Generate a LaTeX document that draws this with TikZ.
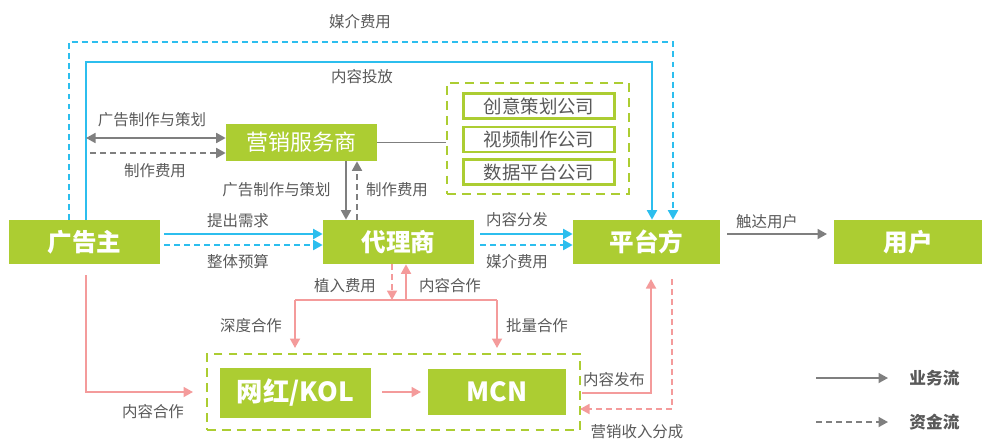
\documentclass[tikz,border=0pt]{standalone}
\usepackage{fontspec}
\setmainfont{Noto Sans CJK SC}
\usetikzlibrary{arrows.meta}
\definecolor{lgreen}{HTML}{ACCD32}
\definecolor{lblue}{HTML}{2CBEEE}
\definecolor{lpink}{HTML}{F49B9B}
\definecolor{lgray}{HTML}{7F7F7F}
\definecolor{ltext}{HTML}{595959}
\tikzset{
  x=0.02cm, y=-0.02cm,
  gbox/.style={fill=lgreen, text=white, font=\bfseries\fontsize{14}{16}\selectfont, inner sep=0pt, minimum height=0.88cm},
  cbox/.style={draw=lgreen, line width=1.4pt, text=ltext, fill=white, font=\fontsize{10.5}{12}\selectfont, inner sep=0pt, minimum width=3.02cm, minimum height=0.5cm},
  grp/.style={draw=lgreen, line width=1.6pt, dash pattern=on 5pt off 3.5pt},
  lbl/.style={text=ltext, font=\fontsize{8.8}{10}\selectfont, inner sep=0pt},
  tip/.style={-{Triangle[length=0.19cm,width=0.2cm]}},
  bline/.style={draw=lblue, line width=1.1pt, tip},
  bdash/.style={draw=lblue, line width=1.1pt, tip, dash pattern=on 3.4pt off 2.3pt},
  kline/.style={draw=lgray, line width=1pt, tip},
  kdash/.style={draw=lgray, line width=1pt, tip, dash pattern=on 3.4pt off 2.3pt},
  pline/.style={draw=lpink, line width=1pt, tip},
  pdash/.style={draw=lpink, line width=1pt, tip, dash pattern=on 3.4pt off 2.3pt},
}
\begin{document}
\begin{tikzpicture}
\useasboundingbox (0,0) rectangle (982,439);
% main nodes
\node[gbox, minimum width=3.02cm] (adv) at (84.5,242) {广告主};
\node[gbox, minimum width=3.02cm] (agt) at (398.5,242) {代理商};
\node[gbox, minimum width=2.94cm] (plat) at (646.5,242) {平台方};
\node[gbox, minimum width=2.96cm] (user) at (908,242) {用户};
\node[gbox, minimum width=3.02cm, minimum height=0.74cm, font=\fontsize{12.5}{14}\selectfont] (svc) at (301.5,142.5) {营销服务商};
% company group
\node[grp, minimum width=3.64cm, minimum height=2.22cm, inner sep=0pt] (grpA) at (538,138.5) {};
\node[cbox] (c1) at (539,106) {创意策划公司};
\node[cbox] (c2) at (539,139.5) {视频制作公司};
\node[cbox] (c3) at (539,172) {数据平台公司};
% kol group
\node[grp, minimum width=7.46cm, minimum height=1.52cm, inner sep=0pt] (grpB) at (393.5,392) {};
\node[gbox, minimum width=3.02cm, minimum height=1.0cm, font=\bfseries\fontsize{15}{17}\selectfont] (kol) at (295.5,393) {网红/KOL};
\node[gbox, minimum width=2.76cm, minimum height=0.92cm, font=\bfseries\fontsize{15}{17}\selectfont] (mcn) at (497,391.5) {MCN};

% top blue loops
\draw[bdash] (adv.north -| 69,0) -- (69,42) -- (673,42) -- (plat.north -| 673,0);
\draw[bline] (adv.north -| 86,0) -- (86,62) -- (652,62) -- (plat.north -| 652,0);
\node[lbl] (l1) at (360,22) {媒介费用};
\node[lbl] (l2) at (362,77) {内容投放};

% advertiser <-> service provider
\draw[kline, {Triangle[length=0.19cm,width=0.2cm]}-{Triangle[length=0.19cm,width=0.2cm]}] (86,138) -- (svc.west |- 0,138);
\draw[kdash] (90,153) -- (svc.west |- 0,153);
\node[lbl] (l3) at (152,120) {广告制作与策划};
\node[lbl] (l4) at (155,171) {制作费用};
% service provider -> group
\draw[draw=lgray, line width=0.9pt] (svc.east) -- (grpA.west |- svc.east);
% service provider <-> agent
\draw[kline] (svc.south -| 346,0) -- (agt.north -| 346,0);
\draw[kdash] (agt.north -| 357,0) -- (svc.south -| 357,0);
\node[lbl, anchor=east] (l5) at (331,190) {广告制作与策划};
\node[lbl] (l6) at (397,190) {制作费用};

% advertiser -> agent
\draw[bline] (164,234) -- (agt.west |- 0,234);
\draw[bdash] (164,245) -- (agt.west |- 0,245);
\node[lbl] (l7) at (238,221) {提出需求};
\node[lbl] (l8) at (238,262) {整体预算};
% agent -> platform
\draw[bline] (480,234) -- (plat.west |- 0,234);
\draw[bdash] (480,245) -- (plat.west |- 0,245);
\node[lbl] (l9) at (517,220) {内容分发};
\node[lbl] (l10) at (517,262) {媒介费用};
% platform -> user
\draw[kline] (727,234) -- (827,234);
\node[lbl] (l11) at (767,222) {触达用户};

% agent <-> kol/mcn
\draw[pdash] (agt.south -| 392,0) -- (392,300);
\draw[pline] (406,300) -- (agt.south -| 406,0);
\draw[draw=lpink, line width=1pt] (295,300) -- (497,300);
\draw[pline] (497,300) -- (497,348);
\draw[pline] (295,300) -- (295,348);
\node[lbl] (l12) at (345,286) {植入费用};
\node[lbl] (l13) at (450,286) {内容合作};
\node[lbl] (l14) at (251,326) {深度合作};
\node[lbl] (l15) at (537,326) {批量合作};

% advertiser -> kol
\draw[pline] (86,275) -- (86,392) -- (193,392);
\node[lbl] (l16) at (153,412) {内容合作};
% kol -> mcn
\draw[pline] (382,392) -- (421,392);

% mcn <-> platform
\draw[pline] (582,393) -- (651,393) -- (651,279);
\draw[pdash] (672,279) -- (672,409) -- (580,409);
\node[lbl] (l17) at (614,380) {内容发布};
\node[lbl] (l18) at (637,432) {营销收入分成};

% legend
\draw[kline] (816,378) -- (888,378);
\draw[kdash] (816,422) -- (888,422);
\node[lbl, font=\bfseries\fontsize{9.5}{11}\selectfont, anchor=west] (lg1) at (909,378) {业务流};
\node[lbl, font=\bfseries\fontsize{9.5}{11}\selectfont, anchor=west] (lg2) at (909,422) {资金流};
\end{tikzpicture}
\end{document}
